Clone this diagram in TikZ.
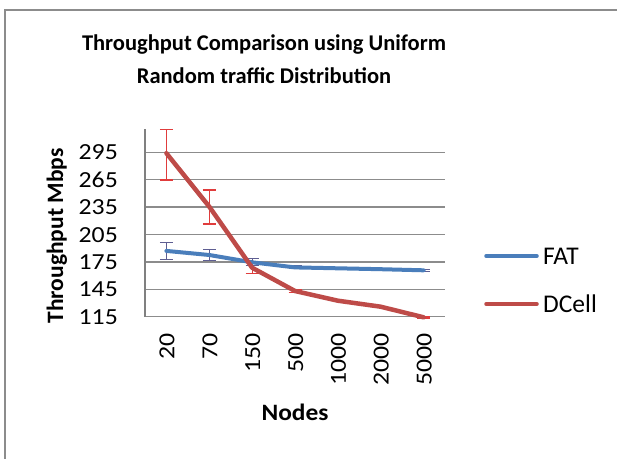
\documentclass[tikz,border=0pt]{standalone}
\usepackage{graphicx}
\usepackage{fontspec}
\setmainfont{Carlito}
\newcommand{\wide}[2]{\scalebox{#1}[1]{#2}}
\begin{document}
\begin{tikzpicture}[x=1pt,y=-1pt,
  frame/.style={draw=black!45,line width=2pt},
  grid/.style={draw=black!45,line width=1.3pt},
  axis/.style={draw=black!50,line width=1.3pt},
  ticklbl/.style={font=\fontsize{23}{25}\selectfont,inner sep=0pt},
  titletext/.style={font=\fontsize{22.5}{25}\selectfont\bfseries,inner sep=0pt,anchor=base},
  axtitle/.style={font=\fontsize{23.5}{25}\selectfont\bfseries,inner sep=0pt},
  fatline/.style={draw=fatc,line width=4pt,line join=round,line cap=round},
  dcline/.style={draw=dcc,line width=4.5pt,line join=round,line cap=round},
  fatbar/.style={draw=fatbarc,line width=1.1pt},
  dcbar/.style={draw=dcbarc,line width=1.1pt},
  legtext/.style={font=\fontsize{25.5}{27}\selectfont,inner sep=0pt,anchor=base west}]
\definecolor{fatc}{HTML}{4A7EBB}
\definecolor{dcc}{HTML}{BE4B48}
\definecolor{fatbarc}{HTML}{5E5E92}
\definecolor{dcbarc}{HTML}{E03C3C}
\useasboundingbox (0,0) rectangle (617,458);
\fill[white] (0,0) rectangle (617,458);

% chart frame (open at right and bottom)
\draw[frame] (5,460) -- (5,10) -- (620,10);

% title
\node[titletext] (t1) at (264,50) {Throughput Comparison using Uniform};
\node[titletext] (t2) at (264,83) {Random traffic Distribution};

% horizontal gridlines and value labels
\foreach \v/\py in {115/316.7,145/289.3,175/261.9,205/234.5,235/207.1,265/179.7,295/152.3}{
  \draw[grid] (145,\py) -- (445,\py);
  \node[ticklbl,anchor=base east] (y\v) at (118,\py+7.5) {\wide{1.12}{\v}};
}
% value axis
\draw[axis] (145,129) -- (145,317.3);

% category labels
\foreach \c/\cx in {20/166.4,70/209.3,150/252.1,500/295,1000/337.9,2000/380.7,5000/423.6}{
  \node[ticklbl,anchor=base east,rotate=90] (x\c) at (\cx+8,333) {\wide{1.12}{\c}};
}

% axis titles
\node[axtitle,anchor=base,rotate=90] (ytitle) at (63,236) {Throughput Mbps};
\node[axtitle,anchor=base] (xtitle) at (295,420) {\wide{1.08}{Nodes}};

% series points
\foreach \n/\cx/\fy/\dy in {a/166.4/250.9/153.2, b/209.3/255/206.7, c/252.1/262.3/267.7, d/295/267.4/291,
                            e/337.9/268.3/300.7, f/380.7/269.2/306.7, g/423.6/270.3/317.3}{
  \coordinate (f\n) at (\cx,\fy);
  \coordinate (d\n) at (\cx,\dy);
}

% error bars: FAT
\foreach \cx/\lo/\hi in {166.4/242.7/259.3, 209.3/249.3/260.7, 252.1/258.8/265.5, 295/266/268.8, 423.6/269.3/271.3}{
  \draw[fatbar] (\cx,\lo) -- (\cx,\hi) (\cx-6.5,\lo) -- (\cx+6.5,\lo) (\cx-6.5,\hi) -- (\cx+6.5,\hi);
}
% error bars: DCell
\foreach \cx/\lo/\hi in {166.4/129.3/180, 209.3/190/224, 252.1/262/273.3, 295/289.6/292.4, 423.6/316.5/318}{
  \draw[dcbar] (\cx,\lo) -- (\cx,\hi) (\cx-6.5,\lo) -- (\cx+6.5,\lo) (\cx-6.5,\hi) -- (\cx+6.5,\hi);
}

% data series
\draw[fatline] (fa) -- (fb) -- (fc) -- (fd) -- (fe) -- (ff) -- (fg);
\draw[dcline] (da) -- (db) -- (dc) -- (dd) -- (de) -- (df) -- (dg);

% legend
\coordinate (lf1) at (486,256); \coordinate (lf2) at (537,256);
\coordinate (ld1) at (486,304); \coordinate (ld2) at (537,304);
\draw[fatline,line width=3.5pt] (lf1) -- (lf2);
\draw[dcline,line width=3.5pt] (ld1) -- (ld2);
\node[legtext] (lfat) at (543,264) {FAT};
\node[legtext] (ldc) at (543,312) {DCell};
\end{tikzpicture}
\end{document}
